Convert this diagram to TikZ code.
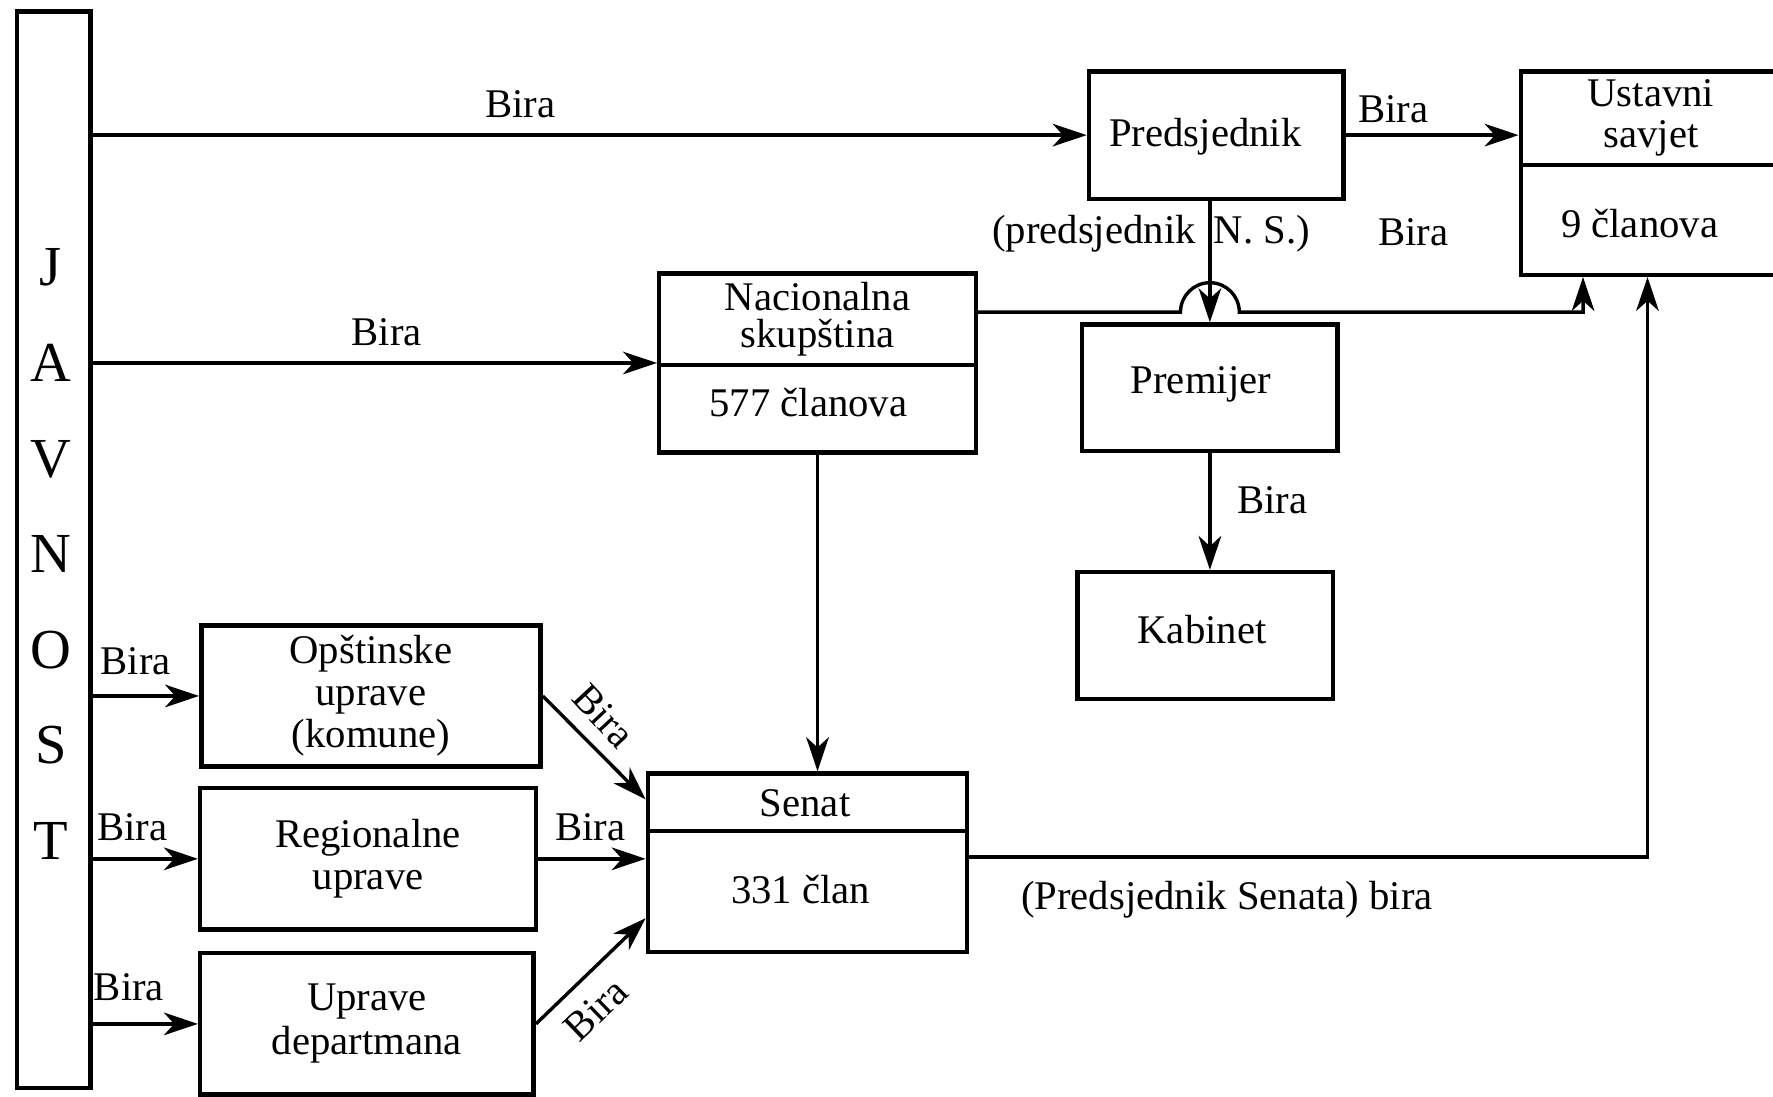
\documentclass[tikz,border=0pt]{standalone}
\usepackage{fontspec}
\setmainfont{Liberation Serif}
\usetikzlibrary{arrows.meta}
\begin{document}
\begin{tikzpicture}[x=1pt,y=1pt,
  font=\fontsize{36}{36}\selectfont,
  box/.style={draw, line width=4pt, inner sep=0pt, align=center},
  conn/.style={line width=3pt, -{Stealth[length=30pt,width=20pt,inset=9pt]}},
  divider/.style={line width=3.5pt},
  lbl/.style={inner sep=0pt, align=center}]
\useasboundingbox (0,0) rectangle (1568,-970);
% boxes
\node[box, minimum width=65, minimum height=952] (jav) at (47.5,-486) {};
\node[lbl, font=\fontsize{50}{84.5}\selectfont] (javt) at (45,-490) {J\\A\\V\\N\\O\\S\\T};
\node[box, minimum width=225, minimum height=113] (pred) at (1075.5,-119.5) {};
\node[lbl] (predt) at (1066,-121) {Predsjednik};
\node[box, minimum width=230, minimum height=180] (ust) at (1460,-153) {};
\draw[divider] (ust.west |- 0,-146) -- (ust.east |- 0,-146);
\node[lbl] (ustt) at (1460,-104) {Ustavni\\savjet};
\node[lbl] (ustb) at (1450,-198) {9 članova};
\node[box, minimum width=280, minimum height=158] (nac) at (723,-321) {};
\draw[divider] (nac.west |- 0,-323) -- (nac.east |- 0,-323);
\node[lbl, font=\fontsize{36}{33}\selectfont] (nact) at (723,-282) {Nacionalna\\skupština};
\node[lbl] (nacb) at (715,-356) {577 članova};
\node[box, minimum width=226, minimum height=112] (prem) at (1070,-343) {};
\node[lbl] (premt) at (1062,-340) {Premijer};
\node[box, minimum width=226, minimum height=112] (kab) at (1066,-562) {};
\node[lbl] (kabt) at (1063,-557) {Kabinet};
\node[box, minimum width=282, minimum height=158] (sen) at (714,-763) {};
\draw[divider] (sen.west |- 0,-735) -- (sen.east |- 0,-735);
\node[lbl] (sent) at (712,-710) {Senat};
\node[lbl] (senb) at (708,-787) {331 član};
\node[box, minimum width=300, minimum height=125, font=\fontsize{36}{37}\selectfont] (op) at (328,-615.5) {Opštinske\\uprave\\(komune)};
\node[box, minimum width=297, minimum height=125, font=\fontsize{36}{37}\selectfont] (reg) at (325.5,-759.5) {Regionalne\\uprave};
\node[box, minimum width=295, minimum height=125, font=\fontsize{36}{39}\selectfont] (dep) at (324.5,-905.5) {Uprave\\departmana};
% connectors
\draw[conn] (jav.east |- pred.west) -- (pred.west);
\draw[conn] (jav.east |- nac.west) -- (nac.west);
\draw[conn] (jav.east |- op.west) -- (op.west);
\draw[conn] (jav.east |- reg.west) -- (reg.west);
\draw[conn] (jav.east |- dep.west) -- (dep.west);
\draw[conn] (pred.east) -- (ust.west |- pred.east);
\draw[conn] (prem.north |- pred.south) -- (prem.north);
\draw[conn] (nac.south) -- (nac.south |- sen.north);
\draw[conn] (prem.south) -- (prem.south |- kab.north);
\coordinate (h1) at (1044,-276);
\coordinate (b1) at (1400,-276);
\draw[conn] (nac.east |- h1) -- (h1) arc (180:0:26) -- (b1) -- (b1 |- ust.south);
\coordinate (s1) at (1457,-758);
\draw[conn] (sen.east |- s1) -- (s1) -- (s1 |- ust.south);
\draw[conn] (op.east) -- (sen.west |- 0,-707);
\draw[conn] (reg.east) -- (sen.west |- reg.east);
\draw[conn] (dep.east) -- (sen.west |- 0,-812);
% labels
\node[lbl] (l1) at (460,-92) {Bira};
\node[lbl] (l2) at (342,-294) {Bira};
\node[lbl] (l3) at (120,-585) {Bira};
\node[lbl] (l4) at (117,-732) {Bira};
\node[lbl] (l5) at (114,-873) {Bira};
\node[lbl] (l6) at (1232,-97) {Bira};
\node[lbl] (l7) at (1250,-205) {Bira};
\node[lbl] (l8) at (1125,-442) {Bira};
\node[lbl] (l9) at (522,-732) {Bira};
\node[lbl, rotate=-47] (l10) at (534,-633) {Bira};
\node[lbl, rotate=44] (l11) at (527,-893) {Bira};
\node[lbl] (l12) at (1018,-207) {(predsjednik\hspace{16pt}N. S.)};
\node[lbl] (l13) at (1085,-796) {(Predsjednik Senata) bira};
\end{tikzpicture}
\end{document}
